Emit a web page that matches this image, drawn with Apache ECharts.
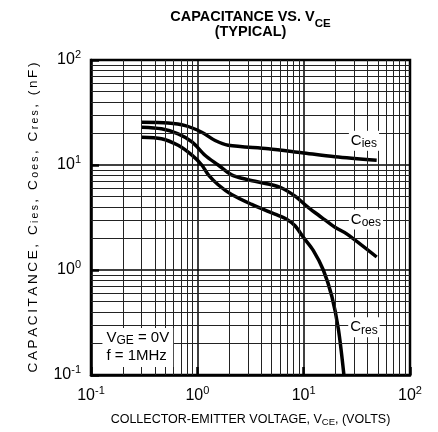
<!DOCTYPE html>
<html>
<head>
<meta charset="utf-8">
<script src="https://cdn.jsdelivr.net/npm/echarts@6/dist/echarts.min.js"></script>
<style>
  html, body { margin: 0; padding: 0; background: #fff; }
  #chart { width: 438px; height: 432px; }
</style>
</head>
<body>
<div id="chart"></div>
<script>
// values (VCE in volts, C in nF)
const ciesV = [0.30, 0.53, 0.77, 1.10, 1.47, 1.95, 4.65, 9.6, 19.7, 48.6];
const ciesC = [25.5, 25.1, 23.7, 20.5, 17.1, 15.4, 14.3, 13.1, 12.0, 11.1];

const coesV = [0.30, 0.46, 0.66, 0.89, 1.18, 1.57, 2.10, 3.01, 4.65, 6.21, 8.29, 11.1, 14.8, 19.7, 25.4, 48.6];
const coesC = [22.9, 22.1, 19.8, 16.6, 12.4, 10.0, 8.05, 7.23, 6.59, 6.04, 5.05, 3.93, 3.16, 2.55, 2.21, 1.33];

const cresV = [0.30, 0.46, 0.66, 0.89, 1.10, 1.27, 1.57, 2.10, 3.25, 5.37, 6.92, 8.29, 9.93, 12.3, 15.3, 18.4, 21.2, 23.9];
const cresC = [18.4, 17.8, 15.4, 12.4, 10.0, 8.05, 6.49, 5.23, 4.21, 3.40, 3.05, 2.64, 2.05, 1.54, 1.0, 0.562, 0.274, 0.1];

const decades = [0.1, 1, 10, 100];
const minorSteps = [2, 3, 4, 5, 6, 7, 8, 9];

const font = '"Liberation Sans", Arial, Helvetica, sans-serif';

const zip = (xs, ys) => xs.map((x, i) => [x, ys[i]]);

let minor = [];
decades.slice(0, 3).forEach(d => minorSteps.forEach(m => minor.push(+(d * m).toPrecision(3))));

const supRich = {
    b: { fontFamily: font, fontSize: 16, color: '#000', lineHeight: 22 },
    s: { fontFamily: font, fontSize: 11, color: '#000', verticalAlign: 'top' }
};
function powLabel(v) {
    return '{b|10}{s|' + Math.round(Math.log10(v)) + '}';
}

const subRich = {
    b: { fontFamily: font, fontSize: 15, color: '#000', lineHeight: 18 },
    s: { fontFamily: font, fontSize: 12, color: '#000', verticalAlign: 'bottom' }
};

// y name is drawn letter-spaced, one rich token per character
function spaced(parts) {
    return parts.map(p => p[0].split('').map(ch => '{' + p[1] + '|' + ch + '}').join('')).join('');
}
const yName = spaced([['CAPACITANCE, C', 'b'], ['ies', 's'], [', C', 'b'], ['oes', 's'], [', C', 'b'], ['res', 's'], [', (nF)', 'b']]);

const chart = echarts.init(document.getElementById('chart'));

chart.setOption({
    animation: false,
    backgroundColor: '#fff',
    title: [{
        text: '{t|CAPACITANCE VS. V}{s|CE}',
        left: 250.5, top: 9, textAlign: 'center', padding: 0,
        textStyle: { rich: {
            t: { fontFamily: font, fontSize: 14.5, fontWeight: 'bold', color: '#000', lineHeight: 16, verticalAlign: 'top' },
            s: { fontFamily: font, fontSize: 11.5, fontWeight: 'bold', color: '#000', padding: [8.5, 0, 0, 0], verticalAlign: 'top' }
        } }
    }, {
        text: '(TYPICAL)',
        left: 250.5, top: 24.5, textAlign: 'center', padding: 0,
        textStyle: { fontFamily: font, fontSize: 14.5, fontWeight: 'bold', color: '#000' }
    }],
    grid: { left: 91, right: 28, top: 60, bottom: 52, show: true, borderColor: '#000', borderWidth: 2.5, backgroundColor: 'transparent' },
    xAxis: {
        type: 'log', logBase: 10, min: 0.1, max: 100,
        name: '{b|COLLECTOR-EMITTER VOLTAGE, V}{s|CE}{b|, (VOLTS)}',
        nameLocation: 'middle', nameGap: 37,
        nameTextStyle: { rich: {
            b: { fontFamily: font, fontSize: 12.5, color: '#000', lineHeight: 15 },
            s: { fontFamily: font, fontSize: 9.5, color: '#000', verticalAlign: 'bottom' }
        } },
        axisLine: { show: true, lineStyle: { color: '#000', width: 2.5 } },
        axisTick: { show: true, inside: true, length: 8, lineStyle: { color: '#000', width: 2.5 } },
        axisLabel: { formatter: powLabel, rich: supRich, margin: 10 },
        splitLine: { show: true, lineStyle: { color: '#000', width: 1.5 } }
    },
    yAxis: {
        type: 'log', logBase: 10, min: 0.1, max: 100,
        name: yName,
        nameLocation: 'middle', nameGap: 50, nameRotate: 90,
        nameTextStyle: { rich: {
            b: { fontFamily: font, fontSize: 13.5, color: '#000', lineHeight: 16, padding: [0, 1.3, 0, 1.3] },
            s: { fontFamily: font, fontSize: 10.5, color: '#000', verticalAlign: 'bottom', padding: [0, 1.1, 0, 1.1] }
        } },
        axisLine: { show: true, lineStyle: { color: '#000', width: 2.5 } },
        axisTick: { show: true, inside: true, length: 8, lineStyle: { color: '#000', width: 2.5 } },
        axisLabel: { formatter: powLabel, rich: supRich, margin: 10 },
        splitLine: { show: true, lineStyle: { color: '#000', width: 1.5 } }
    },
    series: [
        {
            type: 'line', data: [], z: 1, silent: true,
            markLine: {
                silent: true, symbol: ['none', 'none'], label: { show: false },
                lineStyle: { color: '#222', width: 1, type: 'solid' },
                emphasis: { disabled: true },
                data: minor.map(v => ({ xAxis: v })).concat(minor.map(v => ({ yAxis: v })))
            }
        },
        { name: 'Cies', type: 'line', data: zip(ciesV, ciesC), smooth: 0.3, showSymbol: false, z: 3,
          lineStyle: { color: '#000', width: 3.5 } },
        { name: 'Coes', type: 'line', data: zip(coesV, coesC), smooth: 0.3, showSymbol: false, z: 3,
          lineStyle: { color: '#000', width: 3.5 } },
        { name: 'Cres', type: 'line', data: zip(cresV, cresC), smooth: 0.3, showSymbol: false, z: 3,
          lineStyle: { color: '#000', width: 3.5 } },
        {
            type: 'scatter', data: [], z: 4, silent: true,
            markPoint: {
                silent: true, symbol: 'rect', symbolSize: 0,
                label: { show: true, position: 'inside', backgroundColor: '#fff', padding: [1, 2, 1, 2], rich: subRich },
                data: [
                    { coord: [36.9, 17.0], label: { formatter: '{b|C}{s|ies}' } },
                    { coord: [38.5, 3.03], label: { formatter: '{b|C}{s|oes}' } },
                    { coord: [36.9, 0.285], label: { formatter: '{b|C}{s|res}' } },
                    { coord: [0.12, 0.183], label: { formatter: '{b|V}{s|GE}{b| = 0V}\n{b|f = 1MHz}', align: 'left', position: 'right', distance: 3, padding: [1, 4, 2, 4] } }
                ]
            }
        }
    ]
});
</script>
</body>
</html>
